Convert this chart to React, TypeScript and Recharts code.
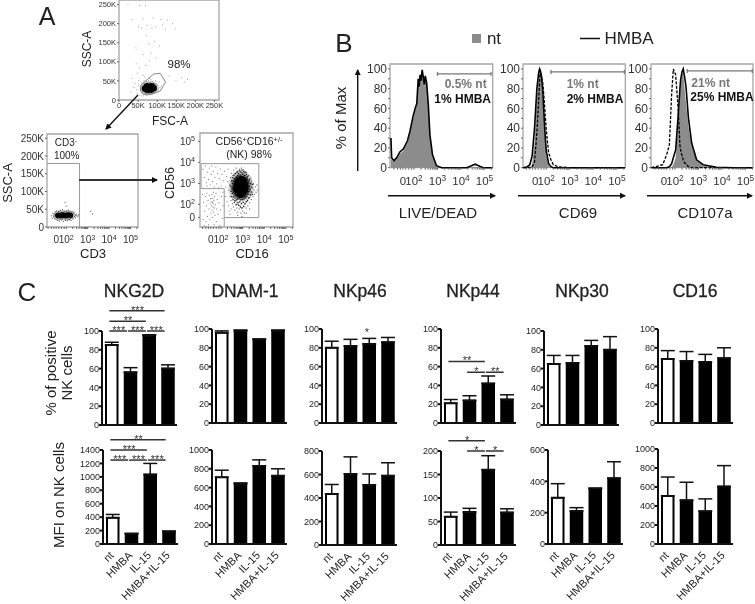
import React from "react";
import {
  BarChart,
  Bar,
  Cell,
  ErrorBar,
  XAxis,
  YAxis,
  ReferenceLine,
  ReferenceArea,
  ScatterChart,
  Scatter,
  ComposedChart,
  Area,
  Line,
} from "recharts";

const FONT = "'Liberation Sans', Arial, sans-serif";

// panel C
const categories = ["nt", "HMBA", "IL-15", "HMBA+IL-15"];

const nkg2dPct = [85, 56, 95, 60];
const nkg2dPctErr = [3, 5, 1, 4];
const dnamPct = [96, 98, 89, 98];
const dnamPctErr = [2, 1, 0, 1];
const nkp46Pct = [80, 82, 84, 86];
const nkp46PctErr = [7, 7, 6, 5];
const nkp44Pct = [21, 24, 42, 25];
const nkp44PctErr = [4, 5, 8, 5];
const nkp30Pct = [65, 66, 84, 80];
const nkp30PctErr = [9, 8, 6, 14];
const cd16Pct = [68, 66, 65, 69];
const cd16PctErr = [9, 10, 8, 11];

const nkg2dMfi = [390, 150, 1035, 180];
const nkg2dMfiErr = [50, 10, 165, 15];
const dnamMfi = [710, 640, 830, 725];
const dnamMfiErr = [75, 10, 65, 75];
const nkp46Mfi = [435, 605, 510, 590];
const nkp46MfiErr = [80, 145, 95, 110];
const nkp44Mfi = [60, 70, 160, 69];
const nkp44MfiErr = [10, 8, 30, 8];
const nkp30Mfi = [295, 210, 355, 420];
const nkp30MfiErr = [90, 22, 0, 105];
const cd16Mfi = [505, 460, 345, 605];
const cd16MfiErr = [200, 190, 130, 220];

const pctTicks = [0, 20, 40, 60, 80, 100];
const nkg2dMfiTicks = [0, 200, 400, 600, 800, 1000, 1200, 1400];
const thousandTicks = [0, 200, 400, 600, 800, 1000];
const nkp46MfiTicks = [0, 200, 400, 600, 800];
const nkp44MfiTicks = [0, 50, 100, 150, 200];
const nkp30MfiTicks = [0, 200, 400, 600];

const nkg2dPctMarks = [
  { from: "nt", to: "HMBA", y: 100, stars: "***" },
  { from: "HMBA", to: "IL-15", y: 100, stars: "***" },
  { from: "IL-15", to: "HMBA+IL-15", y: 100, stars: "***" },
  { from: "nt", to: "IL-15", y: 110.5, stars: "**" },
  { from: "nt", to: "HMBA+IL-15", y: 121.5, stars: "***" },
];
const nkg2dMfiMarks = [
  { from: "nt", to: "HMBA", y: 1250, stars: "***" },
  { from: "HMBA", to: "IL-15", y: 1250, stars: "***" },
  { from: "IL-15", to: "HMBA+IL-15", y: 1250, stars: "***" },
  { from: "nt", to: "IL-15", y: 1400, stars: "***" },
  { from: "nt", to: "HMBA+IL-15", y: 1554, stars: "**" },
];
const nkp46PctMarks = [{ from: "IL-15", to: "IL-15", y: 96, stars: "*" }];
const nkp44PctMarks = [
  { from: "nt", to: "IL-15", y: 65.5, stars: "**" },
  { from: "HMBA", to: "IL-15", y: 54, stars: "*" },
  { from: "IL-15", to: "HMBA+IL-15", y: 54, stars: "**" },
];
const nkp44MfiMarks = [
  { from: "nt", to: "IL-15", y: 222, stars: "*" },
  { from: "HMBA", to: "IL-15", y: 200, stars: "*" },
  { from: "IL-15", to: "HMBA+IL-15", y: 200, stars: "*" },
];

// panel B, x is the biexponential axis in decades, 2 = 10^2
const liveX = [1.02, 1.05, 1.15, 1.26, 1.4, 1.55, 1.72, 1.83, 1.97, 2.05, 2.12, 2.18, 2.22, 2.26, 2.3, 2.35, 2.4, 2.44, 2.48, 2.54, 2.61, 2.68, 2.79, 2.96, 3.18, 3.6, 4.24, 4.45, 4.6, 4.75, 4.95, 5.34];
const liveNt = [28, 8, 6, 9, 14, 17, 25, 36, 50, 58, 63, 86, 80, 90, 86, 96, 88, 82, 90, 84, 62, 32, 12, 1, 0, 0, 0, 0.5, 1, 0.5, 0, 0];
const liveHmba = [30, 10, 7, 10, 16, 19, 27, 37, 53, 60, 65, 90, 82, 94, 88, 99, 91, 84, 93, 86, 64, 33, 13, 2, 0, 0, 0, 2, 3.5, 2, 0, 0];

const cd69X = [1.02, 1.2, 1.3, 1.4, 1.5, 1.6, 1.68, 1.72, 1.75, 1.8, 1.85, 1.9, 1.95, 2, 2.1, 2.2, 2.3, 2.5, 3, 5.35];
const cd69Nt = [0, 0, 0, 3, 25, 72, 92, 97, 98, 88, 72, 50, 30, 12, 2, 0, 0, 0, 0, 0];
const cd69Hmba = [0, 1, 3, 12, 40, 80, 97, 100, 98, 92, 78, 55, 33, 17, 4, 1, 0, 0, 0, 0];
const cd69Ctrl = [0, 0, 0, 1, 6, 35, 70, 90, 98, 92, 86, 72, 55, 38, 15, 8, 3, 1, 0, 0];

const cd107X = [1, 1.475, 1.645, 1.76, 1.86, 1.93, 2.03, 2.14, 2.21, 2.24, 2.3, 2.35, 2.41, 2.47, 2.57, 2.71, 2.92, 3.2, 3.77, 4.5, 5.3];
const cd107Nt = [0, 0, 0, 0, 1, 3, 10, 45, 75, 85, 95, 96, 80, 65, 42, 22, 7, 2, 0, 0, 0];
const cd107Hmba = [0, 0, 0, 1, 4, 10, 18, 54, 80, 89, 97, 100, 92, 82, 51, 25, 8, 3, 0.5, 0, 0];
const cd107Ctrl = [0, 3, 13, 23, 75, 100, 94, 58, 23, 18, 12, 8, 5, 4, 1, 0, 0, 0, 0, 0, 0];

const fscCore = [[68, 30], [74, 27], [80, 33], [86, 36], [73, 36], [84, 27], [91, 31], [78, 30]];
const fscSparse = [[22, 251], [52, 249], [68, 248], [33, 212], [62, 214], [88, 216], [108, 212], [125, 211], [50, 193], [58, 190], [72, 197], [85, 189], [96, 193], [113, 198], [121, 187], [139, 201], [146, 188], [70, 170], [92, 155], [77, 149], [105, 143], [43, 138], [61, 120], [83, 124], [96, 112], [44, 96], [52, 85], [69, 92], [78, 104], [47, 72], [62, 66], [33, 58], [41, 45], [50, 52], [66, 61], [79, 58], [130, 64], [148, 52], [163, 60], [170, 48], [178, 55], [30, 22], [38, 34], [44, 28], [46, 18], [50, 40], [54, 14], [56, 33], [58, 47], [60, 22], [62, 12], [64, 52], [65, 42], [68, 18], [70, 50], [72, 14], [74, 46], [76, 52], [78, 17], [80, 48], [82, 54], [84, 17], [86, 50], [88, 19], [90, 46], [92, 22], [94, 52], [96, 44], [98, 25], [100, 40], [102, 30], [104, 49], [106, 34], [110, 38], [58, 28], [62, 36], [64, 24], [66, 40], [67, 20], [71, 42], [75, 20], [77, 42], [81, 21], [83, 44], [87, 24], [93, 40], [95, 27], [97, 36]];
const fscGate = [[57, 39], [91, 68], [108, 70], [122, 47], [108, 23.5], [82, 14], [64, 14], [56, 25], [57, 39]];

const cd3Core = [[1.6, 33], [1.7, 32], [1.8, 34], [1.9, 33], [2.0, 32], [2.1, 34], [2.2, 33]];
const cd3Sparse = [[1.28, 33], [1.32, 26], [1.35, 40], [1.38, 30], [1.42, 38], [1.44, 25], [1.46, 44], [1.5, 22], [1.53, 46], [1.58, 20], [1.62, 45], [1.66, 18], [1.7, 48], [1.76, 21], [1.8, 50], [1.84, 17], [1.88, 46], [1.94, 20], [1.97, 60], [2.0, 47], [2.03, 19], [2.08, 49], [2.12, 22], [2.16, 45], [2.2, 20], [2.25, 44], [2.3, 24], [2.34, 43], [2.4, 28], [2.45, 38], [2.48, 33], [2.52, 30], [2.56, 36], [1.92, 70], [2.58, 34], [3.12, 45], [3.2, 38], [1.4, 34], [1.45, 30], [1.48, 37], [1.52, 28], [1.55, 40], [1.57, 26], [1.63, 41], [1.68, 24], [1.74, 42], [1.79, 24], [1.86, 42], [1.92, 24], [1.98, 43], [2.06, 23], [2.1, 42], [2.18, 25], [2.23, 41], [2.28, 27], [2.32, 39], [2.36, 31], [2.38, 36], [2.42, 34]];
const cd3Gate = [[1.1, 179], [2.62, 179], [2.62, 0]];

const cd16Core = [[2.92, 2.82], [2.86, 3.0], [2.99, 2.98], [2.82, 2.72], [3.02, 2.72], [2.92, 2.56], [2.94, 3.1]];
const cd16Ring = [[2.42, 2.9], [2.44, 2.65], [2.46, 3.15], [2.47, 2.4], [2.49, 2.78], [2.5, 3.02], [2.51, 2.55], [2.52, 3.3], [2.53, 2.25], [2.54, 2.85], [2.55, 2.68], [2.56, 3.14], [2.56, 2.42], [2.58, 2.95], [2.58, 3.42], [2.59, 2.12], [2.6, 2.78], [2.61, 3.25], [2.62, 2.33], [2.63, 3.05], [2.64, 2.58], [2.65, 3.5], [2.66, 2.2], [2.68, 3.32], [2.69, 2.02], [2.7, 2.44], [2.71, 3.18], [2.72, 3.58], [2.73, 2.28], [2.75, 3.4], [2.76, 2.1], [2.78, 3.5], [2.79, 1.98], [2.8, 2.32], [2.81, 3.3], [2.83, 3.62], [2.84, 2.15], [2.86, 3.42], [2.87, 1.9], [2.89, 2.24], [2.9, 3.55], [2.92, 2.06], [2.94, 3.66], [2.95, 1.86], [2.97, 2.25], [2.98, 3.48], [3.0, 2.12], [3.02, 3.6], [3.03, 1.92], [3.05, 2.3], [3.06, 3.4], [3.08, 2.05], [3.09, 3.55], [3.11, 2.35], [3.12, 3.28], [3.14, 2.15], [3.15, 3.46], [3.17, 2.4], [3.18, 3.2], [3.2, 2.22], [3.21, 3.36], [3.22, 2.5], [3.24, 3.05], [3.26, 2.64], [3.27, 2.35], [3.28, 2.88], [3.3, 3.2], [3.32, 2.5], [3.33, 2.74], [3.35, 3.02], [3.37, 2.62], [3.39, 2.85], [3.42, 2.5], [3.44, 2.98]];
const cd16Halo = [[2.3, 3.1], [2.35, 2.7], [2.38, 2.95], [2.4, 2.4], [2.42, 3.3], [2.44, 2.2], [2.46, 2.85], [2.47, 3.5], [2.48, 2.55], [2.5, 3.15], [2.51, 2.05], [2.52, 2.75], [2.53, 3.4], [2.54, 2.35], [2.55, 3.0], [2.56, 1.9], [2.57, 3.65], [2.58, 2.6], [2.59, 3.25], [2.6, 2.2], [2.61, 2.9], [2.62, 1.75], [2.63, 3.5], [2.64, 2.45], [2.65, 3.1], [2.66, 2.0], [2.67, 2.75], [2.68, 3.75], [2.69, 2.25], [2.7, 3.35], [2.71, 1.85], [2.72, 3.55], [2.73, 2.1], [2.74, 3.4], [2.75, 1.65], [2.76, 3.62], [2.78, 2.0], [2.8, 3.5], [2.82, 1.8], [2.84, 3.7], [2.86, 1.95], [2.88, 3.6], [2.9, 1.6], [2.92, 3.75], [2.94, 1.85], [2.96, 3.55], [2.98, 1.7], [3.0, 3.68], [3.02, 1.95], [3.04, 3.52], [3.06, 1.62], [3.08, 3.6], [3.1, 2.05], [3.12, 3.42], [3.14, 1.85], [3.16, 3.55], [3.18, 2.15], [3.2, 3.3], [3.22, 1.95], [3.24, 3.4], [3.26, 2.3], [3.28, 3.15], [3.3, 2.1], [3.32, 3.25], [3.34, 2.45], [3.36, 2.95], [3.38, 2.25], [3.4, 3.1], [3.42, 2.6], [3.44, 2.8], [3.46, 2.4], [3.48, 3.0], [3.5, 2.7], [3.52, 2.5], [3.56, 2.85], [3.6, 2.6], [3.64, 2.95], [3.68, 2.7], [2.75, 1.5], [2.95, 1.45], [3.15, 1.6], [3.3, 1.8]];
const cd16Sparse = [[1.15, 3.7], [1.2, 3.3], [1.25, 3.85], [1.3, 3.05], [1.33, 2.9], [1.36, 3.55], [1.4, 3.2], [1.44, 3.75], [1.48, 2.95], [1.52, 3.45], [1.55, 3.85], [1.58, 3.1], [1.62, 3.6], [1.66, 2.85], [1.7, 3.3], [1.74, 3.8], [1.78, 3.0], [1.82, 3.5], [1.86, 2.8], [1.9, 3.25], [1.94, 3.7], [1.98, 2.9], [2.02, 3.45], [2.06, 2.6], [2.1, 3.15], [2.14, 3.6], [2.18, 2.4], [2.2, 2.85], [2.24, 3.35], [2.26, 2.15], [2.3, 3.7], [2.32, 1.95], [2.36, 1.7], [2.4, 1.55], [2.45, 1.8], [1.12, 2.5], [1.15, 1.3], [1.18, 2.1], [1.2, 1.0], [1.22, 1.7], [1.25, 2.4], [1.28, 1.2], [1.3, 1.95], [1.32, 2.55], [1.35, 1.45], [1.38, 2.2], [1.4, 1.05], [1.42, 1.8], [1.44, 2.45], [1.46, 1.3], [1.48, 2.05], [1.5, 2.3], [1.52, 1.6], [1.53, 2.15], [1.55, 1.95], [1.56, 2.5], [1.57, 1.75], [1.58, 2.1], [1.59, 1.4], [1.6, 2.3], [1.61, 1.9], [1.62, 2.05], [1.63, 2.6], [1.64, 1.65], [1.65, 2.2], [1.66, 1.05], [1.67, 1.85], [1.68, 2.4], [1.7, 1.5], [1.72, 2.0], [1.74, 2.55], [1.76, 1.2], [1.78, 1.8], [1.8, 2.25], [1.84, 1.55], [1.88, 2.1], [1.92, 1.0], [1.96, 1.75], [2.0, 2.4], [2.04, 1.35], [2.08, 1.95]];
const cd16OuterGate = [[1.08, 2.75], [1.08, 3.94], [3.75, 3.94], [3.75, 1.37], [2.15, 1.37], [2.15, 2.75], [1.08, 2.75]];
const cd16InnerGate = [[2.15, 1.37], [2.15, 0.94]];

const fscTicks = [0, 50, 100, 150, 200, 250];
const histPctTicks = [0, 10, 20, 30, 40, 50, 60, 70, 80, 90, 100];
const decadeMinor = [1.15, 1.3, 1.42, 1.65, 1.78, 1.9, 2.3, 2.48, 2.6, 2.7, 2.78, 2.85, 2.9, 2.95, 3.3, 3.48, 3.6, 3.7, 3.78, 3.85, 3.9, 3.95, 4.3, 4.48, 4.6, 4.7, 4.78, 4.85, 4.9, 4.95, 5.3];
const decadeMajor = [1.53, 2, 3, 4, 5];
const decadeAxis = [...decadeMajor, ...decadeMinor].sort((a, b) => a - b);
const cd56Axis = [1.38, 2, 3, 4, 5];

const toPoints = (pairs: number[][]) => pairs.map(([x, y]) => ({ x, y }));

const buildBars = (values: number[], errors: number[]) =>
  categories.map((name, i) => ({ name, value: values[i], err: [0, errors[i]] }));

const panelTitles = [
  { text: "NKG2D", x: 134 },
  { text: "DNAM-1", x: 245 },
  { text: "NKp46", x: 360 },
  { text: "NKp44", x: 473 },
  { text: "NKp30", x: 582 },
  { text: "CD16", x: 695 },
];

const barPanels = [
  { left: 102, top: 331, bottom: 425, max: 100, ticks: pctTicks, values: nkg2dPct, errors: nkg2dPctErr, marks: nkg2dPctMarks },
  { left: 212, top: 329, bottom: 423, max: 100, ticks: pctTicks, values: dnamPct, errors: dnamPctErr },
  { left: 322, top: 329, bottom: 423, max: 100, ticks: pctTicks, values: nkp46Pct, errors: nkp46PctErr, marks: nkp46PctMarks },
  { left: 441, top: 329, bottom: 423, max: 100, ticks: pctTicks, values: nkp44Pct, errors: nkp44PctErr, marks: nkp44PctMarks },
  { left: 544, top: 331, bottom: 425, max: 100, ticks: pctTicks, values: nkp30Pct, errors: nkp30PctErr },
  { left: 658, top: 329, bottom: 423, max: 100, ticks: pctTicks, values: cd16Pct, errors: cd16PctErr },
  { left: 103, top: 450, bottom: 544, max: 1400, ticks: nkg2dMfiTicks, values: nkg2dMfi, errors: nkg2dMfiErr, marks: nkg2dMfiMarks, labels: true },
  { left: 212, top: 450, bottom: 544, max: 1000, ticks: thousandTicks, values: dnamMfi, errors: dnamMfiErr, labels: true },
  { left: 322, top: 451, bottom: 545, max: 800, ticks: nkp46MfiTicks, values: nkp46Mfi, errors: nkp46MfiErr, labels: true },
  { left: 441, top: 451, bottom: 545, max: 200, ticks: nkp44MfiTicks, values: nkp44Mfi, errors: nkp44MfiErr, marks: nkp44MfiMarks, labels: true },
  { left: 548, top: 450, bottom: 544, max: 600, ticks: nkp30MfiTicks, values: nkp30Mfi, errors: nkp30MfiErr, labels: true },
  { left: 658, top: 449, bottom: 544, max: 1000, ticks: thousandTicks, values: cd16Mfi, errors: cd16MfiErr, labels: true },
];

function BracketLine(props: any) {
  const { x1, x2, y1, stars } = props;
  const hasLine = x2 - x1 > 6;
  return (
    <g>
      {hasLine && <line x1={x1 - 2} x2={x2 - 3} y1={y1} y2={y1} stroke="#333" strokeWidth={1.5} />}
      <text x={(x1 + x2) / 2 - 2} y={y1 + 3} textAnchor="middle" fontSize={11} fontFamily={FONT} fill="#333">
        {stars}
      </text>
    </g>
  );
}

function SlantTick({ x, y, payload }: any) {
  const px = x + 2;
  const py = y + 4;
  return (
    <text x={px} y={py} textAnchor="end" transform={`rotate(-45 ${px} ${py})`} fontSize={11} fontFamily={FONT} fill="#222">
      {payload.value}
    </text>
  );
}

function SigBars({ panel }: { panel: any }) {
  const marginTop = 40;
  const axisW = 40;
  const plotW = 75;
  const plotH = panel.bottom - panel.top;
  const xH = panel.labels ? 62 : 4;
  return (
    <div style={{ position: "absolute", left: panel.left - axisW, top: panel.top - marginTop }}>
      <BarChart
        width={axisW + plotW + 6}
        height={marginTop + plotH + xH}
        data={buildBars(panel.values, panel.errors)}
        margin={{ top: marginTop, right: 6, left: 0, bottom: 0 }}
      >
        <XAxis
          dataKey="name"
          interval={0}
          height={xH}
          stroke="#111"
          strokeWidth={2}
          tickLine={false}
          tick={panel.labels ? <SlantTick /> : false}
        />
        <YAxis
          type="number"
          domain={[0, panel.max]}
          ticks={panel.ticks}
          width={axisW}
          stroke="#111"
          strokeWidth={2}
          tickSize={3}
          tickMargin={0}
          tick={{ fontSize: 9, fill: "#222", fontFamily: FONT }}
          interval={0}
        />
        <Bar dataKey="value" barSize={11.5} stroke="#000" strokeWidth={2} isAnimationActive={false}>
          {panel.values.map((_: number, i: number) => (
            <Cell key={i} fill={i === 0 ? "#fff" : "#000"} />
          ))}
          <ErrorBar dataKey="err" direction="y" width={7} stroke="#111" strokeWidth={1.5} isAnimationActive={false} />
        </Bar>
        {(panel.marks || []).map((m: any, i: number) => (
          <ReferenceLine
            key={i}
            ifOverflow="visible"
            segment={[
              { x: m.from, y: m.y },
              { x: m.to, y: m.y },
            ]}
            shape={(p: any) => <BracketLine {...p} stars={m.stars} />}
          />
        ))}
      </BarChart>
    </div>
  );
}

// x and y tick with a real superscript for the decades
function DecadeTick({ x, y, payload, labels, size, axis, gap }: any) {
  const v = payload.value;
  if (!labels.includes(v)) return null;
  const sup = v === Math.round(v) && v >= 2;
  const small = size * 0.72;
  const common = { fontSize: size, fontFamily: FONT, fill: "#333" };
  if (axis === "x") {
    return (
      <text x={x} y={y + gap} textAnchor="middle" {...common}>
        {sup ? "10" : "0"}
        {sup && <tspan dy={-size * 0.35} fontSize={small}>{v}</tspan>}
      </text>
    );
  }
  return (
    <text x={x - 1} y={y + size * 0.35} textAnchor="end" {...common}>
      {sup ? "10" : "0"}
      {sup && <tspan dy={-size * 0.35} fontSize={small}>{v}</tspan>}
    </text>
  );
}

const Pixel = (color: string, s = 1) => (p: any) => <rect x={p.cx} y={p.cy} width={s} height={s} fill={color} />;
const Blob = (r: number) => (p: any) => <circle cx={p.cx} cy={p.cy} r={r} fill="#000" />;
const Soft = (r: number, o: number) => (p: any) => <circle cx={p.cx} cy={p.cy} r={r} fill="#000" fillOpacity={o} />;
const NoDot = () => <g />;

function Frame({ x, y }: { x: number[]; y: number[] }) {
  return <ReferenceArea x1={x[0]} x2={x[1]} y1={y[0]} y2={y[1]} fill="none" stroke="#a6a6a6" strokeWidth={1.3} ifOverflow="visible" />;
}

function FscPlot() {
  return (
    <div style={{ position: "absolute", left: 74, top: -5 }}>
      <ScatterChart width={155} height={120} margin={{ top: 5, right: 10, left: 0, bottom: 0 }}>
        <XAxis type="number" dataKey="x" domain={[0, 262]} ticks={fscTicks} height={15} axisLine={false} tickSize={2} stroke="#666" tickMargin={1} interval={0} tick={{ fontSize: 7.5, fill: "#333", fontFamily: FONT }} tickFormatter={(v) => (v ? `${v}K` : "0")} />
        <YAxis type="number" dataKey="y" domain={[0, 262]} ticks={fscTicks} width={45} axisLine={false} tickSize={2} stroke="#666" tickMargin={1} interval={0} tick={{ fontSize: 7.5, fill: "#333", fontFamily: FONT }} tickFormatter={(v) => (v ? `${v}K` : "0")} />
        {Frame({ x: [0, 262], y: [0, 262] })}
        <Scatter data={toPoints(fscSparse)} shape={Pixel("#a0a0a0")} isAnimationActive={false} />
        <Scatter data={toPoints(fscCore)} shape={Soft(5.5, 0.14)} isAnimationActive={false} />
        <Scatter data={toPoints(fscCore)} shape={Blob(3.2)} isAnimationActive={false} />
        <Scatter data={toPoints(fscGate)} line={{ stroke: "#888", strokeWidth: 1 }} shape={NoDot} isAnimationActive={false} />
      </ScatterChart>
    </div>
  );
}

function Cd3Plot() {
  return (
    <div style={{ position: "absolute", left: 2, top: 129 }}>
      <ScatterChart width={146} height={119} margin={{ top: 5, right: 10, left: 0, bottom: 0 }}>
        <XAxis type="number" dataKey="x" domain={[1.1, 5.35]} ticks={decadeAxis} height={21} axisLine={false} tickSize={2} stroke="#666" interval={0} tick={<DecadeTick labels={decadeMajor} size={10} axis="x" gap={12} />} />
        <YAxis type="number" dataKey="y" domain={[0, 262]} ticks={fscTicks} width={45} axisLine={false} tickSize={2} stroke="#666" tickMargin={1} interval={0} tick={{ fontSize: 10, fill: "#333", fontFamily: FONT }} tickFormatter={(v) => (v ? `${v}K` : "0")} />
        {Frame({ x: [1.1, 5.35], y: [0, 262] })}
        <Scatter data={toPoints(cd3Sparse)} shape={Pixel("#444")} isAnimationActive={false} />
        <Scatter data={toPoints(cd3Core)} shape={Soft(5, 0.12)} isAnimationActive={false} />
        <Scatter data={toPoints(cd3Core)} shape={Blob(2.6)} isAnimationActive={false} />
        <Scatter data={toPoints(cd3Gate)} line={{ stroke: "#999", strokeWidth: 1 }} shape={NoDot} isAnimationActive={false} />
      </ScatterChart>
    </div>
  );
}

function Cd16Plot() {
  return (
    <div style={{ position: "absolute", left: 155, top: 128 }}>
      <ScatterChart width={148} height={120} margin={{ top: 5, right: 10, left: 0, bottom: 0 }}>
        <XAxis type="number" dataKey="x" domain={[1.03, 5.33]} ticks={decadeAxis} height={21} axisLine={false} tickSize={2} stroke="#666" interval={0} tick={<DecadeTick labels={decadeMajor} size={10} axis="x" gap={12} />} />
        <YAxis type="number" dataKey="y" domain={[0.92, 5.4]} ticks={cd56Axis} width={45} axisLine={false} tickSize={2} stroke="#666" interval={0} tick={<DecadeTick labels={cd56Axis} size={10} axis="y" />} />
        {Frame({ x: [1.03, 5.33], y: [0.92, 5.4] })}
        <Scatter data={toPoints(cd16Core)} shape={Soft(11, 0.1)} isAnimationActive={false} />
        <Scatter data={toPoints(cd16Sparse)} shape={Pixel("#777")} isAnimationActive={false} />
        <Scatter data={toPoints(cd16Halo)} shape={Pixel("#444")} isAnimationActive={false} />
        <Scatter data={toPoints(cd16Ring)} shape={Pixel("#111", 1.2)} isAnimationActive={false} />
        <Scatter data={toPoints(cd16Core)} shape={Soft(7.5, 0.35)} isAnimationActive={false} />
        <Scatter data={toPoints(cd16Core)} shape={Blob(5.4)} isAnimationActive={false} />
        <Scatter data={toPoints(cd16OuterGate)} line={{ stroke: "#999", strokeWidth: 1 }} shape={NoDot} isAnimationActive={false} />
        <Scatter data={toPoints(cd16InnerGate)} line={{ stroke: "#999", strokeWidth: 1 }} shape={NoDot} isAnimationActive={false} />
      </ScatterChart>
    </div>
  );
}

function Histogram({ left, right, x, nt, hmba, ctrl, gate, domain }: any) {
  const rows = x.map((v: number, i: number) => ({ x: v, nt: nt[i], hmba: hmba[i], ctrl: ctrl ? ctrl[i] : null }));
  const axisW = 30;
  const gateStyle = { stroke: "#777", strokeWidth: 1.3, ifOverflow: "visible" as const };
  return (
    <div style={{ position: "absolute", left: left - axisW, top: 58 }}>
      <ComposedChart width={axisW + (right - left) + 4} height={132} data={rows} margin={{ top: 6, right: 4, left: 0, bottom: 0 }}>
        <XAxis type="number" dataKey="x" domain={domain} ticks={decadeAxis} height={22.3} axisLine={false} tickSize={2} stroke="#666" interval={0} tick={<DecadeTick labels={decadeMajor} size={11.5} axis="x" gap={13} />} />
        <YAxis type="number" domain={[0, 105]} ticks={histPctTicks} width={axisW} axisLine={false} tickSize={2} stroke="#666" tickMargin={1} interval={0} tick={{ fontSize: 12, fill: "#333", fontFamily: FONT }} tickFormatter={(v) => (v % 20 === 0 ? String(v) : "")} />
        {Frame({ x: domain, y: [0, 105] })}
        <Area type="linear" dataKey="nt" stroke="none" fill="#8c8c8c" fillOpacity={1} dot={false} isAnimationActive={false} />
        {ctrl && <Line type="linear" dataKey="ctrl" stroke="#000" strokeWidth={1.3} strokeDasharray="3 1.5" dot={false} isAnimationActive={false} />}
        <Line type="linear" dataKey="hmba" stroke="#000" strokeWidth={1.6} dot={false} isAnimationActive={false} />
        <ReferenceLine {...gateStyle} segment={[{ x: gate[0], y: gate[2] }, { x: gate[1], y: gate[2] }]} />
        <ReferenceLine {...gateStyle} segment={[{ x: gate[0], y: gate[2] - 2 }, { x: gate[0], y: gate[2] + 2 }]} />
        <ReferenceLine {...gateStyle} segment={[{ x: gate[1], y: gate[2] - 2 }, { x: gate[1], y: gate[2] + 2 }]} />
      </ComposedChart>
    </div>
  );
}

function T({ x, y, size, children, rotate, color, bold, heavy }: any) {
  return (
    <div
      style={{
        position: "absolute",
        left: x,
        top: y,
        transform: `translate(-50%, -50%)${rotate ? ` rotate(${rotate}deg)` : ""}`,
        fontFamily: FONT,
        fontSize: size,
        lineHeight: 1.2,
        whiteSpace: "nowrap",
        color: color || "#222",
        fontWeight: bold ? 700 : 400,
        WebkitTextStroke: heavy ? "0.3px" : undefined,
      }}
    >
      {children}
    </div>
  );
}

const sup = (s: string) => <sup style={{ fontSize: "0.7em", lineHeight: 0, verticalAlign: "0.4em" }}>{s}</sup>;

function Arrows() {
  const arrows = [
    { x1: 138, y1: 95, x2: 106, y2: 129, w: 1.4, c: "#111" },
    { x1: 79, y1: 180, x2: 157, y2: 180, w: 1.8, c: "#333" },
    { x1: 357.7, y1: 171, x2: 357.7, y2: 70, w: 1.4, c: "#111" },
    { x1: 388, y1: 195.7, x2: 495, y2: 195.7, w: 1.6, c: "#111" },
    { x1: 518, y1: 195.7, x2: 625, y2: 195.7, w: 1.6, c: "#111" },
    { x1: 647, y1: 195.7, x2: 752, y2: 195.7, w: 1.6, c: "#111" },
  ];
  return (
    <svg width={755} height={604} style={{ position: "absolute", left: 0, top: 0 }}>
      <defs>
        <marker id="head" markerWidth="8" markerHeight="8" refX="5" refY="3" orient="auto" markerUnits="userSpaceOnUse">
          <path d="M0,0 L6,3 L0,6 z" fill="#111" />
        </marker>
      </defs>
      {arrows.map((a, i) => (
        <line key={i} x1={a.x1} y1={a.y1} x2={a.x2} y2={a.y2} stroke={a.c} strokeWidth={a.w} markerEnd="url(#head)" />
      ))}
      <rect x={472} y={34} width={9} height={9} fill="#8c8c8c" />
      <line x1={580} x2={600} y1={38.5} y2={38.5} stroke="#111" strokeWidth={1.5} />
    </svg>
  );
}

export default function App() {
  return (
    <div style={{ position: "absolute", left: 0, top: 0, width: 755, height: 604, overflow: "hidden", background: "#fff", filter: "blur(0.35px)" }}>
      <FscPlot />
      <Cd3Plot />
      <Cd16Plot />
      <Histogram left={390} right={492.7} x={liveX} nt={liveNt} hmba={liveHmba} domain={[0.98, 5.35]} gate={[3.0, 5.28, 95]} />
      <Histogram left={522.7} right={625} x={cd69X} nt={cd69Nt} hmba={cd69Hmba} ctrl={cd69Ctrl} domain={[1.01, 5.36]} gate={[2.2, 5.32, 97]} />
      <Histogram left={651} right={753} x={cd107X} nt={cd107Nt} hmba={cd107Hmba} ctrl={cd107Ctrl} domain={[0.98, 5.32]} gate={[2.52, 5.29, 98]} />
      {barPanels.map((p, i) => (
        <SigBars key={i} panel={p} />
      ))}
      <Arrows />

      <T x={47} y={16} size={25}>A</T>
      <T x={344} y={44} size={26}>B</T>
      <T x={27} y={293} size={26}>C</T>

      <T x={179} y={65} size={11.5}>98%</T>
      <T x={87} y={49} size={12} rotate={-90}>SSC-A</T>
      <T x={170} y={121} size={12}>FSC-A</T>
      <T x={8} y={183} size={13} rotate={-90}>SSC-A</T>
      <T x={93} y={254} size={13}>CD3</T>
      <T x={170} y={183} size={12.5} rotate={-90}>CD56</T>
      <T x={252} y={254} size={13}>CD16</T>
      <T x={66} y={143} size={10}>CD3{sup("-")}</T>
      <T x={66.7} y={156} size={10}>100%</T>
      <T x={249} y={141} size={10.5}>CD56{sup("+")}CD16{sup("+/-")}</T>
      <T x={249} y={154} size={10.5}>(NK) 98%</T>

      <T x={494} y={39} size={17}>nt</T>
      <T x={629} y={39} size={17}>HMBA</T>
      <T x={341} y={118} size={15} rotate={-90}>% of Max</T>
      <T x={438} y={213} size={15}>LIVE/DEAD</T>
      <T x={578} y={213} size={15}>CD69</T>
      <T x={705} y={213} size={15}>CD107a</T>
      <T x={465.7} y={84} size={12} bold color="#777">0.5% nt</T>
      <T x={462.7} y={99} size={12} bold color="#111">1% HMBA</T>
      <T x={582.7} y={84} size={12} bold color="#777">1% nt</T>
      <T x={595} y={99} size={12} bold color="#111">2% HMBA</T>
      <T x={710.7} y={83} size={12} bold color="#777">21% nt</T>
      <T x={722} y={97} size={12} bold color="#111">25% HMBA</T>

      {panelTitles.map((t) => (
        <T key={t.text} x={t.x} y={291} size={17.5} heavy>{t.text}</T>
      ))}
      <T x={51} y={373} size={15} rotate={-90}>% of positive</T>
      <T x={67} y={373} size={15} rotate={-90}>NK cells</T>
      <T x={59} y={495} size={15} rotate={-90}>MFI on NK cells</T>
    </div>
  );
}
